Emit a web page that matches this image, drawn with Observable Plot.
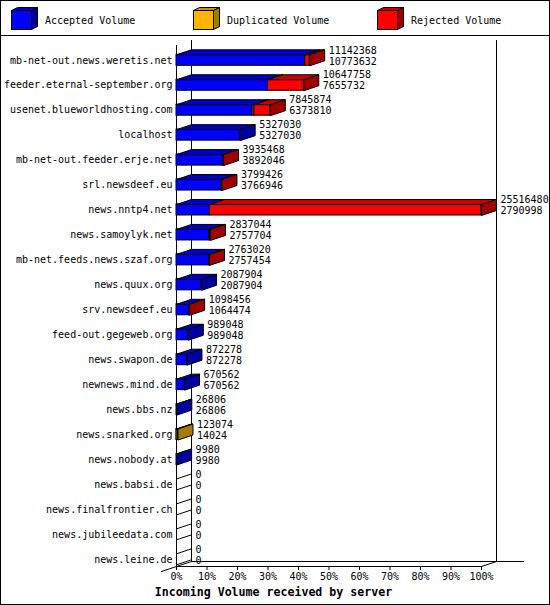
<!DOCTYPE html>
<html><head><meta charset="utf-8">
<script src="https://cdn.jsdelivr.net/npm/d3@7"></script>
<script src="https://cdn.jsdelivr.net/npm/@observablehq/plot@0.6"></script>
<style>
html,body{margin:0;padding:0;background:#fff;}
#wrap{position:relative;width:550px;height:605px;box-sizing:border-box;border:1px solid #000;background:#fff;font-family:"DejaVu Sans Mono",monospace;overflow:hidden;}
#legend{height:34px;border-bottom:1px solid #000;}
#legend svg,#chart svg{display:block;}
#title{position:absolute;left:0;top:584px;width:545px;text-align:center;font-weight:bold;font-size:11.6px;line-height:14px;color:#000;}
</style></head>
<body><div id="wrap"><div id="legend"></div><div id="chart"></div><div id="title"></div></div>
<script>
// ---- data ----
const hosts = [
  "mb-net-out.news.weretis.net","feeder.eternal-september.org","usenet.blueworldhosting.com",
  "localhost","mb-net-out.feeder.erje.net","srl.newsdeef.eu","news.nntp4.net",
  "news.samoylyk.net","mb-net.feeds.news.szaf.org","news.quux.org","srv.newsdeef.eu",
  "feed-out.gegeweb.org","news.swapon.de","newnews.mind.de","news.bbs.nz",
  "news.snarked.org","news.nobody.at","news.babsi.de","news.finalfrontier.ch",
  "news.jubileedata.com","news.leine.de"];
const totalVolume = [11142368,10647758,7845874,5327030,3935468,3799426,25516480,2837044,2763020,2087904,1098456,989048,872278,670562,26806,123074,9980,0,0,0,0];
const acceptedVolume = [10773632,7655732,6373810,5327030,3892046,3766946,2790998,2757704,2757454,2087904,1064474,989048,872278,670562,26806,14024,9980,0,0,0,0];
const duplicatedVolume = [0,0,146000,0,0,0,0,0,0,0,0,0,0,0,0,109050,0,0,0,0,0];
const rejectedVolume = [368736,2992026,1326064,0,43422,32480,22725482,79340,5566,0,33982,0,0,0,0,0,0,0,0,0,0];
const seriesNames = ["Accepted Volume","Duplicated Volume","Rejected Volume"];
const frontColors = ["#0000ff","#ffb400","#ff0000"];
const topColors = ["#0000c8","#cc9000","#cc0000"];
const sideColors = ["#0000a0","#a87800","#a00000"];
const tickPercents = [0,10,20,30,40,50,60,70,80,90,100];
const axisTitle = "Incoming Volume received by server";

// ---- layout ----
const W = 548, H = 548;
const X_RANGE = [175, 480];
const Y_RANGE = [23.8, 522.8];
const DEPTH_X = 15, DEPTH_Y = 5, HALF_H = 5.5;
const maxTotal = d3.max(totalVolume);
const pct = v => v / maxTotal * 100;
const px = d3.scaleLinear().domain([0, 100]).range(X_RANGE);
const py = d3.scaleLinear().domain([0, hosts.length - 1]).range(Y_RANGE);
const DX = px.invert(X_RANGE[0] + DEPTH_X);
const DY = py.invert(Y_RANGE[0] + DEPTH_Y);
const HALF = py.invert(Y_RANGE[0] + HALF_H);

// ---- geometry built from data ----
const fronts = [], tops = [], sides = [], rows = [];
hosts.forEach((h, i) => {
  const vals = [acceptedVolume[i], duplicatedVolume[i], rejectedVolume[i]];
  const yT = i - HALF, yB = i + HALF;
  let x0 = 0, last = -1;
  vals.forEach((v, k) => {
    if (v > 0) {
      const x1 = x0 + pct(v);
      fronts.push({x1: x0, x2: x1, y1: yT, y2: yB, c: frontColors[k]});
      const id = "t" + i + "-" + k;
      [[x0, yT], [x1, yT], [x1 + DX, yT - DY], [x0 + DX, yT - DY], [x0, yT]]
        .forEach(([x, y]) => tops.push({id, x, y, c: topColors[k]}));
      x0 = x1; last = k;
    }
  });
  const xe = pct(totalVolume[i]);
  const sid = "s" + i;
  const sc = last >= 0 ? sideColors[last] : "white";
  [[xe, yT], [xe + DX, yT - DY], [xe + DX, yB - DY], [xe, yB], [xe, yT]]
    .forEach(([x, y]) => sides.push({id: sid, x, y, c: sc}));
  rows.push({i, x: xe, total: String(totalVolume[i]), acc: String(acceptedVolume[i])});
});

// frame (walls / floor)
const yFrontBase = py.invert(530), yBackBase = py.invert(525);
const yFrontTop = py.invert(9), yBackTop = py.invert(4);
const frame = [
  [[0, yFrontTop], [0, yFrontBase]],
  [[DX, yBackTop], [DX, yBackBase]],
  [[100 + DX, yBackTop], [100 + DX, yBackBase]],
  [[DX, yBackBase], [px.invert(522), yBackBase]],
  [[0, yFrontBase], [100, yFrontBase]],
  [[DX, yBackBase], [-DX, yFrontBase + DY]],
  [[100, yFrontBase], [100 + DX, yBackBase]]
].flatMap((seg, j) => seg.map(([x, y]) => ({id: j, x, y})));

const chart = Plot.plot({
  width: W, height: H,
  marginLeft: 175, marginRight: W - X_RANGE[1], marginTop: 4, marginBottom: 18,
  style: {fontFamily: "DejaVu Sans Mono, monospace", fontSize: "10px", background: "white", color: "black"},
  x: {domain: [0, 100], range: X_RANGE},
  y: {domain: [0, hosts.length - 1], range: Y_RANGE},
  color: {type: "identity"},
  marks: [
    Plot.line(frame, {x: "x", y: "y", z: "id", stroke: "black", strokeWidth: 1}),
    Plot.rect(fronts, {x1: "x1", x2: "x2", y1: "y1", y2: "y2", fill: "c", stroke: "black", strokeWidth: 1}),
    Plot.line(tops, {x: "x", y: "y", z: "id", fill: "c", stroke: "black", strokeWidth: 1, strokeLinejoin: "miter"}),
    Plot.line(sides, {x: "x", y: "y", z: "id", fill: "c", stroke: "black", strokeWidth: 1, strokeLinejoin: "miter"}),
    Plot.text(rows, {x: "x", y: "i", text: "total", dx: 19, dy: -10, textAnchor: "start", fill: "black"}),
    Plot.text(rows, {x: "x", y: "i", text: "acc", dx: 19, dy: 1, textAnchor: "start", fill: "black"}),
    Plot.axisY({ticks: d3.range(hosts.length), tickFormat: i => hosts[i], tickSize: 0, tickPadding: 4, label: null, anchor: "left"}),
    Plot.axisX({ticks: tickPercents, tickFormat: d => d + "%", tickSize: 4, tickPadding: 2, label: null, anchor: "bottom"})
  ]
});
document.getElementById("chart").appendChild(chart);
document.getElementById("title").textContent = axisTitle;

// ---- legend ----
const lg = d3.select("#legend").append("svg").attr("width", 548).attr("height", 34)
  .style("font-family", "DejaVu Sans Mono, monospace").style("font-size", "10px");
const legendX = [10, 192, 376];
seriesNames.forEach((name, k) => {
  const x = legendX[k] + 0.5, y = 9.5, w = 20, h = 19, dx = 6, dy = 3;
  const g = lg.append("g").attr("stroke", "black").attr("stroke-width", 1);
  g.append("polygon").attr("points", `${x},${y} ${x + dx},${y - dy} ${x + w + dx},${y - dy} ${x + w},${y}`).attr("fill", topColors[k]);
  g.append("polygon").attr("points", `${x + w},${y} ${x + w + dx},${y - dy} ${x + w + dx},${y + h - dy} ${x + w},${y + h}`).attr("fill", sideColors[k]);
  g.append("rect").attr("x", x).attr("y", y).attr("width", w).attr("height", h).attr("fill", frontColors[k]);
  lg.append("text").attr("x", legendX[k] + 34).attr("y", 19).attr("dy", "0.35em").text(name);
});
</script></body></html>
